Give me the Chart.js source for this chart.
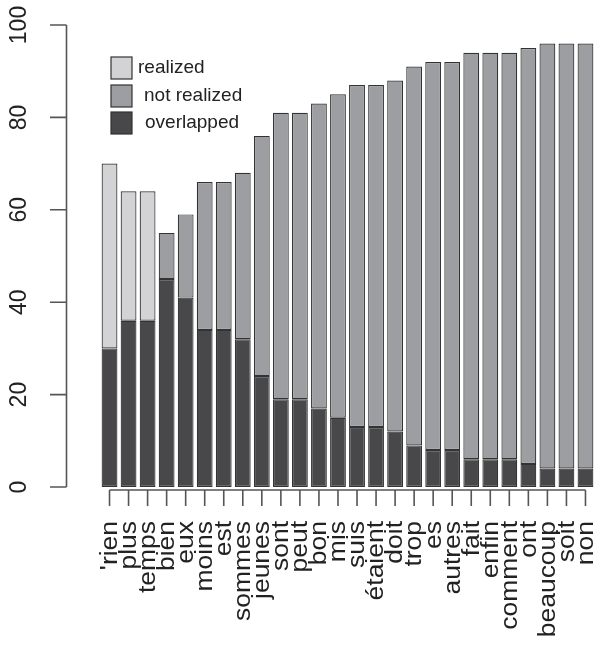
<!DOCTYPE html>
<html>
<head>
<meta charset="utf-8">
<script src="https://cdn.jsdelivr.net/npm/chart.js@4/dist/chart.umd.min.js"></script>
<style>
  html, body { margin: 0; padding: 0; background: #fff; }
  canvas { display: block; }
</style>
</head>
<body>
<canvas id="grafica" width="600" height="645"></canvas>
<script>
// mots et pourcentages
const mots = ["'rien", 'plus', 'temps', 'bien', 'eux', 'moins', 'est', 'sommes', 'jeunes', 'sont',
  'peut', 'bon', 'mis', 'suis', 'étaient', 'doit', 'trop', 'es', 'autres', 'fait',
  'enfin', 'comment', 'ont', 'beaucoup', 'soit', 'non'];
const overlapped = [30, 36, 36, 45, 41, 34, 34, 32, 24, 19, 19, 17, 15, 13, 13, 12, 9, 8, 8, 6, 6, 6, 5, 4, 4, 4];
const realized = [40, 28, 28, 0, 0, 0, 0, 0, 0, 0, 0, 0, 0, 0, 0, 0, 0, 0, 0, 0, 0, 0, 0, 0, 0, 0];
const notRealized = [0, 0, 0, 10, 18, 32, 32, 36, 52, 62, 62, 66, 70, 74, 74, 76, 82, 84, 84, 88, 88, 88, 90, 92, 92, 92];
const yTicks = [0, 20, 40, 60, 80, 100];

const colores = {
  realized: '#d3d3d5',
  notRealized: '#9d9ea2',
  overlapped: '#48484b'
};
const fuente = '"Liberation Sans", Arial, sans-serif';

// ejes, etiquetas y leyenda al estilo de R
const ejesR = {
  id: 'ejesR',
  afterDraw(chart) {
    const ctx = chart.ctx;
    const x = chart.scales.x;
    const y = chart.scales.y;
    ctx.save();
    ctx.strokeStyle = '#555';
    ctx.lineWidth = 1.6;
    ctx.fillStyle = '#222';

    // eje y
    const ejeX = 66.5;
    ctx.beginPath();
    ctx.moveTo(ejeX, y.getPixelForValue(0));
    ctx.lineTo(ejeX, y.getPixelForValue(100));
    yTicks.forEach(v => {
      const py = y.getPixelForValue(v);
      ctx.moveTo(50, py);
      ctx.lineTo(ejeX, py);
    });
    ctx.stroke();

    ctx.font = '23px ' + fuente;
    ctx.textAlign = 'center';
    ctx.textBaseline = 'middle';
    yTicks.forEach(v => {
      ctx.save();
      ctx.translate(20, y.getPixelForValue(v));
      ctx.rotate(-Math.PI / 2);
      ctx.fillText(String(v), 0, 0);
      ctx.restore();
    });

    // eje x
    const ejeY = 490;
    const primero = x.getPixelForValue(0);
    const ultimo = x.getPixelForValue(mots.length - 1);
    ctx.beginPath();
    ctx.moveTo(primero, ejeY);
    ctx.lineTo(ultimo, ejeY);
    mots.forEach((m, i) => {
      const px = x.getPixelForValue(i);
      ctx.moveTo(px, ejeY);
      ctx.lineTo(px, ejeY + 16);
    });
    ctx.stroke();

    ctx.font = '23px ' + fuente;
    ctx.textAlign = 'right';
    ctx.textBaseline = 'middle';
    mots.forEach((m, i) => {
      ctx.save();
      ctx.translate(x.getPixelForValue(i) + 1, 521);
      ctx.rotate(-Math.PI / 2);
      ctx.scale(1.15, 1);
      ctx.fillText(m, 0, 0);
      ctx.restore();
    });

    // leyenda
    const items = [
      { texto: 'realized', color: colores.realized, y: 57, tx: 138 },
      { texto: 'not realized', color: colores.notRealized, y: 85, tx: 144 },
      { texto: 'overlapped', color: colores.overlapped, y: 112, tx: 145 }
    ];
    ctx.font = '19px ' + fuente;
    ctx.textAlign = 'left';
    ctx.lineWidth = 1.2;
    ctx.strokeStyle = '#333';
    items.forEach(it => {
      ctx.fillStyle = it.color;
      ctx.fillRect(111, it.y, 21, 22);
      ctx.strokeRect(111, it.y, 21, 22);
      ctx.fillStyle = '#222';
      ctx.fillText(it.texto, it.tx, it.y + 11);
    });
    ctx.restore();
  }
};

const sinCero = arr => arr.map(v => (v === 0 ? null : v));

const ctx = document.getElementById('grafica');
new Chart(ctx, {
  type: 'bar',
  data: {
    labels: mots,
    datasets: [
      { label: 'overlapped', data: sinCero(overlapped), backgroundColor: colores.overlapped },
      { label: 'realized', data: sinCero(realized), backgroundColor: colores.realized },
      { label: 'not realized', data: sinCero(notRealized), backgroundColor: colores.notRealized }
    ].map(d => Object.assign(d, {
      borderColor: '#333',
      borderWidth: 1.2,
      borderSkipped: false,
      barPercentage: 0.83,
      categoryPercentage: 1
    }))
  },
  options: {
    responsive: false,
    animation: false,
    layout: { padding: { left: 100, right: 5, top: 25, bottom: 158 } },
    scales: {
      x: { stacked: true, display: false },
      y: { stacked: true, display: false, min: 0, max: 100 }
    },
    plugins: {
      legend: { display: false },
      tooltip: { enabled: false }
    }
  },
  plugins: [ejesR]
});
</script>
</body>
</html>
